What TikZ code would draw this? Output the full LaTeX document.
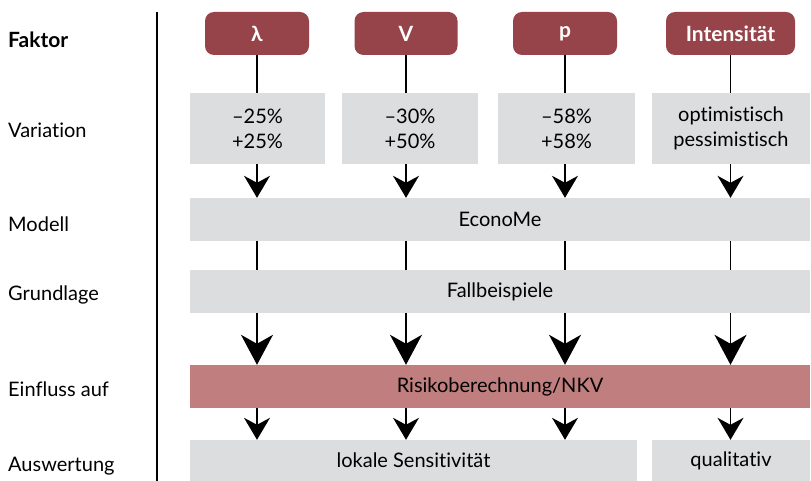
\documentclass[tikz,border=0pt]{standalone}
\usepackage{fontspec}
\setmainfont{Lato}[Ligatures=NoCommon]
\usetikzlibrary{arrows.meta}
\definecolor{tabred}{HTML}{97434A}
\definecolor{boxred}{HTML}{C07F7E}
\definecolor{boxgray}{HTML}{DCDDDF}
\begin{document}
\begin{tikzpicture}[x=1pt,y=-1pt,
  txt/.style={font=\fontsize{20}{25}\selectfont},
  tab/.style={fill=tabred, text=white, font=\bfseries\fontsize{21}{24}\selectfont, rounded corners=9pt, minimum height=43pt, inner sep=0pt},
  gbox/.style={fill=boxgray, txt, inner sep=0pt, align=center},
  rbox/.style={fill=boxred, txt, inner sep=0pt},
  lab/.style={txt, anchor=west, inner sep=0pt},
  conn/.style={line width=1.4pt},
  smallarr/.style={conn, -{Stealth[length=22pt,width=26pt,inset=7pt]}},
  bigarr/.style={conn, -{Stealth[length=30pt,width=32pt,inset=9pt]}}
]
\useasboundingbox (0,0) rectangle (811,481);
% left labels
\node[lab, font=\bfseries\fontsize{21}{24}\selectfont] (lf) at (8,40) {Faktor};
\node[lab] (lv) at (8,130) {Variation};
\node[lab] (lm) at (8,224) {Modell};
\node[lab] (lg) at (8,295) {Grundlage};
\node[lab] (le) at (8,389) {Einfluss auf};
\node[lab] (la) at (8,466) {Auswertung};
\coordinate (dtop) at (157,12);
\coordinate (dbot) at (157,481);
\draw[line width=1.2pt] (dtop) -- (dbot);
% tabs
\node[tab, minimum width=104pt] (t1) at (257,33.5) {λ};
\node[tab, minimum width=103pt] (t2) at (406,33.5) {V};
\node[tab, minimum width=104pt] (t3) at (565,33.5) {p};
\node[tab, minimum width=129pt] (t4) at (730.5,33.5) {Intensität};
% variation boxes
\node[gbox, minimum width=135pt, minimum height=71pt] (v1) at (257.5,128.5) {–25\%\\+25\%};
\node[gbox, minimum width=136pt, minimum height=71pt] (v2) at (410,128.5) {–30\%\\+50\%};
\node[gbox, minimum width=137pt, minimum height=71pt] (v3) at (566.5,128.5) {–58\%\\+58\%};
\node[gbox, minimum width=158pt, minimum height=71pt] (v4) at (731,128.5) {optimistisch\\pessimistisch};
% wide boxes
\node[gbox, minimum width=620pt, minimum height=43pt] (econ) at (500,219.5) {EconoMe};
\node[gbox, minimum width=620pt, minimum height=43pt] (fall) at (500,291.5) {Fallbeispiele};
\node[rbox, minimum width=620pt, minimum height=43pt] (risk) at (500,386.5) {Risikoberechnung/NKV};
\node[gbox, minimum width=447pt, minimum height=41pt] (lok) at (413.5,460.5) {lokale Sensitivität};
\node[gbox, minimum width=158pt, minimum height=41pt] (qual) at (731,460.5) {qualitativ};
% connectors
\foreach \t/\v in {t1/v1,t2/v2,t3/v3,t4/v4}{
  \draw[conn] (\t.south) -- (\t.south |- \v.north);
  \draw[smallarr] (\t.south |- \v.south) -- (\t.south |- econ.north);
  \draw[conn] (\t.south |- econ.south) -- (\t.south |- fall.north);
  \draw[bigarr] (\t.south |- fall.south) -- (\t.south |- risk.north);
}
\draw[smallarr] (t1.south |- risk.south) -- (t1.south |- lok.north);
\draw[smallarr] (t2.south |- risk.south) -- (t2.south |- lok.north);
\draw[smallarr] (t3.south |- risk.south) -- (t3.south |- lok.north);
\draw[smallarr] (t4.south |- risk.south) -- (t4.south |- qual.north);
\end{tikzpicture}
\end{document}
